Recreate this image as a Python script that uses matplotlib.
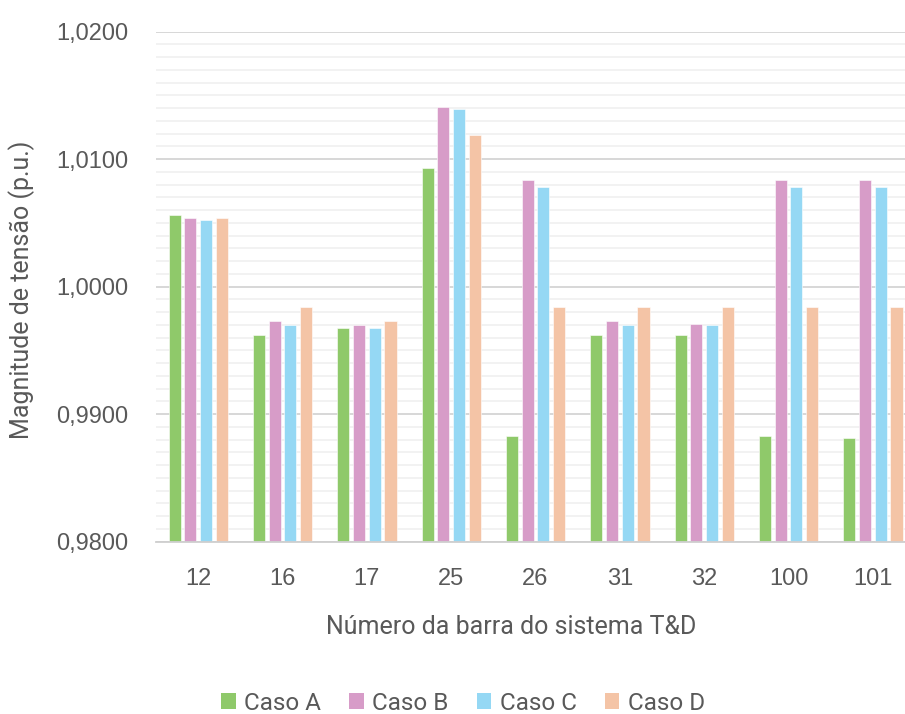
import numpy as np
import matplotlib
matplotlib.use("Agg")
import matplotlib.pyplot as plt
from matplotlib.ticker import MultipleLocator, FuncFormatter
from matplotlib.patches import Patch

# bus numbers of the T&D system and voltage magnitudes (p.u.) per case
barras = ["12", "16", "17", "25", "26", "31", "32", "100", "101"]
caso_a = [1.0056, 0.9962, 0.9968, 1.0093, 0.9883, 0.9962, 0.9962, 0.9883, 0.9881]
caso_b = [1.0054, 0.9973, 0.9970, 1.0141, 1.0084, 0.9973, 0.9971, 1.0084, 1.0084]
caso_c = [1.0052, 0.9970, 0.9968, 1.0139, 1.0078, 0.9970, 0.9970, 1.0078, 1.0078]
caso_d = [1.0054, 0.9984, 0.9973, 1.0119, 0.9984, 0.9984, 0.9984, 0.9984, 0.9984]

series = [("Caso A", caso_a, "#8fc96a"),
          ("Caso B", caso_b, "#d79cc8"),
          ("Caso C", caso_c, "#95d8f4"),
          ("Caso D", caso_d, "#f4c4a6")]

TICK_FONT = ["Liberation Sans", "DejaVu Sans"]
LABEL_FONT = ["Liberation Sans Narrow", "Roboto", "DejaVu Sans"]
GREY = "#595959"

fig = plt.figure(figsize=(9.05, 7.14), dpi=100)
ax = fig.add_axes([0.1724, 0.2413, 0.8387, 0.7143])

x = np.arange(len(barras))
step = 0.186
width = 0.145
for i, (nome, vals, cor) in enumerate(series):
    ax.bar(x + (i - 1.5) * step, vals, width=width, color=cor,
           edgecolor="white", linewidth=0.4, zorder=3, label=nome)

ax.set_xlim(-0.5, len(barras) - 0.5)
ax.set_ylim(0.98, 1.02)
ax.yaxis.set_major_locator(MultipleLocator(0.01))
ax.yaxis.set_minor_locator(MultipleLocator(0.001))
ax.yaxis.set_major_formatter(FuncFormatter(lambda v, _: f"{v:.4f}".replace(".", ",")))
ax.grid(axis="y", which="major", color="#d4d4d4", linewidth=1.3, zorder=0)
ax.grid(axis="y", which="minor", color="#efefef", linewidth=1.1, zorder=0)

ax.set_xticks(x)
ax.set_xticklabels(barras)
ax.tick_params(axis="both", which="both", length=0, colors=GREY, labelsize=17)
ax.tick_params(axis="y", pad=20)
ax.tick_params(axis="x", pad=19)
for lbl in ax.get_xticklabels() + ax.get_yticklabels():
    lbl.set_fontfamily(TICK_FONT)

for s in ["top", "right", "left"]:
    ax.spines[s].set_visible(False)
ax.spines["bottom"].set_color("#cfcfcf")
ax.spines["bottom"].set_linewidth(1.3)
ax.spines["bottom"].set_zorder(4)

fig.text(511 / 905, 1 - 627 / 714, "Número da barra do sistema T&D",
         ha="center", va="center", fontsize=18, color=GREY, family=LABEL_FONT)
fig.text(22 / 905, 1 - 290 / 714, "Magnitude de tensão (p.u.)",
         ha="center", va="center", rotation=90, fontsize=18, color=GREY,
         family=LABEL_FONT)

handles = [Patch(facecolor=c, edgecolor="none", label=n) for n, _, c in series]
fig.legend(handles=handles, loc="center", bbox_to_anchor=(463 / 905, 1 - 703 / 714),
           ncol=4, frameon=False, handlelength=0.6, handleheight=0.6,
           handletextpad=0.35, columnspacing=1.15,
           prop={"family": LABEL_FONT, "size": 17.5}, labelcolor=GREY)

fig.savefig("out.png", dpi=100)
